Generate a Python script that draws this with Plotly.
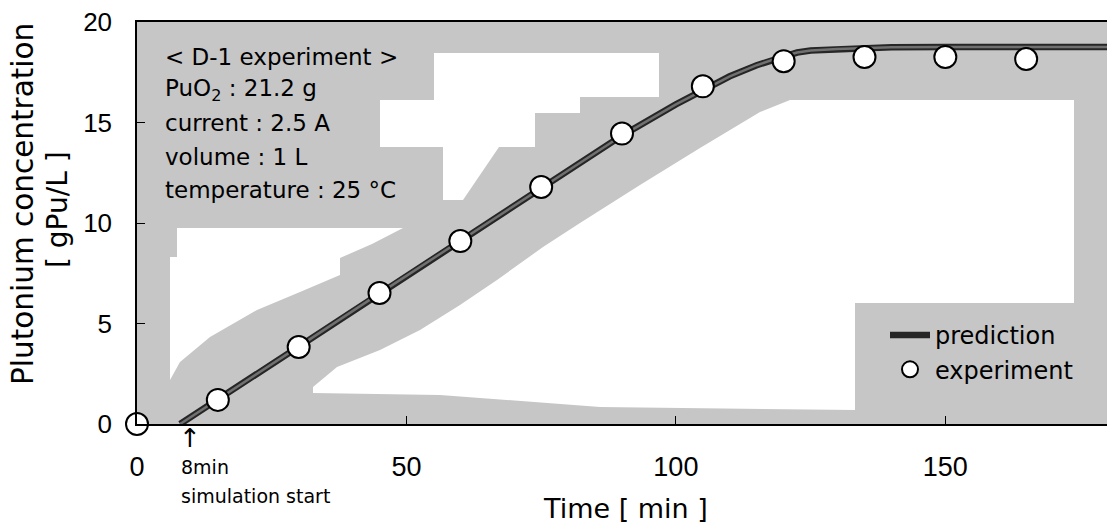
import plotly.graph_objects as go

# Measured plutonium concentration (gPu/L) over time (min)
exp_time = [0, 15, 30, 45, 60, 75, 90, 105, 120, 135, 150, 165]
exp_conc = [0.0, 1.2, 3.83, 6.52, 9.1, 11.79, 14.45, 16.8, 18.05, 18.26, 18.26, 18.16]

# Simulated concentration, simulation starting at 8 min
pred_time = [8, 15, 30, 45, 60, 75, 90, 100, 105, 110, 115, 118, 120, 122.5, 125, 130, 135, 140, 150, 165, 180]
pred_conc = [0.0, 1.22, 3.85, 6.5, 9.12, 11.75, 14.35, 15.9, 16.6, 17.3, 17.85, 18.12, 18.3, 18.48, 18.58, 18.66, 18.71, 18.74, 18.76, 18.76, 18.76]

x_ticks = [0, 50, 100, 150]
y_ticks = [0, 5, 10, 15, 20]

info_lines = [
    "&lt; D-1 experiment &gt;",
    "PuO<sub>2</sub> : 21.2 g",
    "current : 2.5 A",
    "volume : 1 L",
    "temperature : 25 °C",
]

W, H = 1107, 527
L, T, B = 137, 22, 103
PW, PH = W - L, H - T - B
X_MAX, Y_MAX = 180, 20

TXT = "DejaVu Sans"
NUM = "Liberation Sans"
GRAY = "#c6c6c6"


def fx(px):
    return (px - L) / PW


def fy(py):
    return (T + PH - py) / PH


def dx(px):
    return (px - L) / PW * X_MAX


def dy(py):
    return (T + PH - py) / PH * Y_MAX


# Light (unshaded) areas of the screened background, in page pixels
light_areas = [
    [(177, 228), (403, 228), (372, 244), (340, 258), (340, 275), (300, 292), (257, 310),
     (210, 337), (180, 362), (170, 380), (170, 257), (177, 257)],
    [(380, 100), (434, 100), (434, 53), (659, 53), (659, 97), (580, 97), (580, 113),
     (535, 113), (535, 147), (499, 147), (463, 200), (443, 200), (443, 147), (380, 147)],
    [(313, 393), (313, 387), (337, 367), (380, 350), (420, 330), (460, 305), (497, 280),
     (543, 247), (580, 223), (640, 185), (700, 148), (760, 112), (790, 100), (1074, 100),
     (1074, 303), (855, 303), (855, 410), (600, 407), (440, 395)],
]

shapes = []
for poly in light_areas:
    path = "M " + " L ".join(f"{dx(a):.3f},{dy(b):.3f}" for a, b in poly) + " Z"
    shapes.append(dict(type="path", path=path, xref="x", yref="y", layer="below",
                       fillcolor="white", line=dict(width=0)))

fig = go.Figure()

fig.add_trace(go.Scatter(
    x=pred_time, y=pred_conc, mode="lines", name="prediction",
    line=dict(color="#262626", width=6.5), legendrank=1,
))
fig.add_trace(go.Scatter(
    x=pred_time, y=pred_conc, mode="lines", showlegend=False, hoverinfo="skip",
    line=dict(color="#707070", width=2.5),
))
fig.add_trace(go.Scatter(
    x=exp_time, y=exp_conc, mode="markers", name="experiment", cliponaxis=False,
    marker=dict(symbol="circle", size=22, color="white", line=dict(color="black", width=2)),
    legendrank=2,
))

annotations = []
for i, line in enumerate(info_lines):
    annotations.append(dict(
        x=fx(163), y=fy(57 + 33.2 * i), xref="paper", yref="paper",
        text=line, showarrow=False, xanchor="left", yanchor="middle",
        font=dict(family=TXT, size=23, color="black"),
    ))

annotations += [
    dict(x=fx(23), y=fy(204), xref="paper", yref="paper", text="Plutonium concentration",
         textangle=-90, showarrow=False, xanchor="center", yanchor="middle",
         font=dict(family=TXT, size=29.5, color="black")),
    dict(x=fx(57), y=fy(210), xref="paper", yref="paper", text="[ gPu/L ]",
         textangle=-90, showarrow=False, xanchor="center", yanchor="middle",
         font=dict(family=TXT, size=28, color="black")),
    dict(x=fx(625), y=fy(508), xref="paper", yref="paper", text="Time [ min ]",
         showarrow=False, xanchor="center", yanchor="middle",
         font=dict(family=TXT, size=27, color="black")),
    dict(x=fx(179), y=fy(467), xref="paper", yref="paper", text="8min",
         showarrow=False, xanchor="left", yanchor="middle",
         font=dict(family=TXT, size=19, color="black")),
    dict(x=fx(179), y=fy(496), xref="paper", yref="paper", text="simulation start",
         showarrow=False, xanchor="left", yanchor="middle",
         font=dict(family=TXT, size=19, color="black")),
    dict(x=fx(190), y=fy(438), xref="paper", yref="paper", text="↑",
         showarrow=False, xanchor="center", yanchor="middle",
         font=dict(family=TXT, size=26, color="black")),
]

fig.update_layout(
    width=W, height=H,
    margin=dict(l=L, r=0, t=T, b=B, pad=0),
    paper_bgcolor="white", plot_bgcolor=GRAY,
    shapes=shapes, annotations=annotations,
    showlegend=True,
    legend=dict(
        x=fx(885), y=fy(313), xanchor="left", yanchor="top",
        bgcolor="rgba(0,0,0,0)", borderwidth=0,
        font=dict(family=TXT, size=24, color="black"),
        itemwidth=40, tracegroupgap=0,
    ),
    xaxis=dict(
        range=[0, X_MAX], tickvals=x_ticks, ticks="inside", ticklen=8, tickwidth=1.2,
        tickcolor="black", showline=True, linecolor="black", linewidth=1.5, mirror=True,
        showgrid=False, zeroline=False, ticklabelstandoff=18,
        tickfont=dict(family=NUM, size=27, color="black"),
    ),
    yaxis=dict(
        range=[0, Y_MAX], tickvals=y_ticks, ticks="inside", ticklen=8, tickwidth=1.2,
        tickcolor="black", showline=True, linecolor="black", linewidth=1.5,
        showgrid=False, zeroline=False, ticklabelstandoff=18,
        tickfont=dict(family=NUM, size=26, color="black"),
    ),
)

fig.write_html("out.html")
